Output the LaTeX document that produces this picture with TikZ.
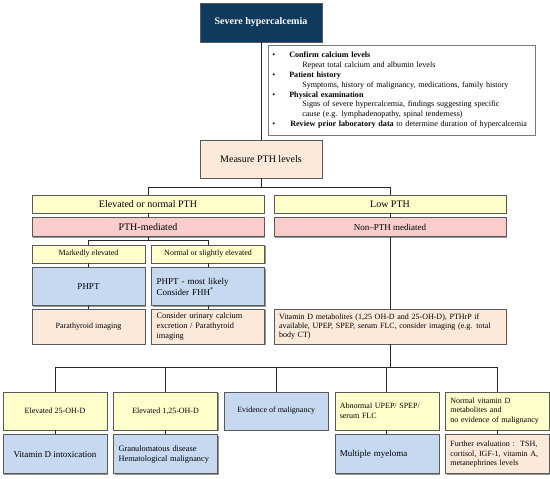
\documentclass[tikz,border=0pt]{standalone}
\usepackage{fontspec}
\setmainfont{Liberation Serif}
\usetikzlibrary{positioning, shadows}
\definecolor{hcnavy}{RGB}{16,58,92}
\definecolor{hcyellow}{RGB}{255,255,204}
\definecolor{hcpink}{RGB}{250,204,204}
\definecolor{hcblue}{RGB}{198,217,241}
\definecolor{hcpeach}{RGB}{253,233,217}
\definecolor{hcgray}{RGB}{89,89,89}

\begin{document}
\begin{tikzpicture}[
  x=1pt, y=-1pt,
  card/.style={rectangle, draw=hcgray, line width=0.6pt, align=center,
               inner xsep=5pt, inner ysep=2pt,
               drop shadow={shadow xshift=1.2pt, shadow yshift=-1.2pt,
                            fill=black!60, opacity=.7}},
  topbox/.style={card, fill=hcnavy, text=white, font=\bfseries,
                 minimum width=122pt, minimum height=39pt},
  infobox/.style={rectangle, draw=hcgray!80, fill=white, line width=0.6pt,
                  align=left, text width=259pt, inner xsep=4pt,
                  minimum height=90pt, font=\fontsize{8.1}{9.8}\selectfont},
  ybox/.style={card, fill=hcyellow},
  pbox/.style={card, fill=hcpink},
  bbox/.style={card, fill=hcblue},
  obox/.style={card, fill=hcpeach},
  wide/.style={minimum width=232pt, minimum height=18pt},
  half/.style={minimum width=113pt},
  cell/.style={minimum width=104pt},
  ln/.style={line width=1pt, draw=black!85},
]
\useasboundingbox (0,0) rectangle (550,479);

% Start and work-up
\node[topbox] (severe) at (261,22.5) {Severe hypercalcemia};
\node[infobox, anchor=north west] (info) at (268,45) {%
  \makebox[17pt][l]{\textbullet}\textbf{Confirm calcium levels}\\
  \hspace*{30pt}Repeat total calcium and albumin levels\\
  \makebox[17pt][l]{\textbullet}\textbf{Patient history}\\
  \hspace*{30pt}Symptoms, history of malignancy, medications, family history\\
  \makebox[17pt][l]{\textbullet}\textbf{Physical examination}\\
  \hspace*{30pt}Signs of severe hypercalcemia, findings suggesting specific\\
  \hspace*{30pt}cause (e.g. lymphadenopathy, spinal tenderness)\\
  \makebox[17pt][l]{\textbullet}\hspace*{1pt}\textbf{Review prior laboratory data} to determine duration of hypercalcemia};
\node[obox, minimum width=122pt, minimum height=38pt] (measure) at (261,159) {Measure PTH levels};

% PTH branches
\node[ybox, wide] (elev) at (148,204) {Elevated or normal PTH};
\node[pbox, wide, minimum height=19pt, below=4pt of elev] (pthmed) {PTH-mediated};
\node[ybox, wide] (low) at (390,204) {Low PTH};
\node[pbox, wide, minimum height=19pt, below=4pt of low, font=\small] (nonpth) {Non--PTH mediated};

% PTH-mediated column
\node[ybox, half, minimum height=18pt, font=\footnotesize] (marked) at (88.5,254) {Markedly elevated};
\node[ybox, half, minimum height=18pt, right=6pt of marked, font=\footnotesize] (slight) {Normal or slightly elevated};
\node[bbox, half, minimum height=38pt, below=4pt of marked, font=\small] (phpt) {PHPT};
\node[bbox, half, minimum height=38pt, below=4pt of slight, align=left, text width=103pt, font=\small] (phptfhh) {PHPT - most likely\\Consider FHH\textsuperscript{*}};
\node[obox, half, minimum height=35pt, below=3pt of phpt, font=\footnotesize] (paraimg) {Parathyroid imaging};
\node[obox, half, minimum height=35pt, below=3pt of phptfhh, align=left, text width=103pt, font=\fontsize{8.3}{10.2}\selectfont] (urinary) {Consider urinary calcium\\excretion / Parathyroid\\imaging};

% Non-PTH work-up
\node[obox, wide, minimum height=35pt, align=left, text width=222pt, font=\fontsize{8}{9.2}\selectfont] (vitd) at (390,326.5) {Vitamin D metabolites (1,25 OH-D and 25-OH-D), PTHrP if\\available, UPEP, SPEP, serum FLC, consider imaging (e.g. total\\body CT)};

% Bottom findings
\node[ybox, cell, minimum height=38pt, font=\footnotesize] (e25) at (55,411) {Elevated 25-OH-D};
\node[ybox, cell, minimum height=38pt, right=6pt of e25, font=\footnotesize] (e125) {Elevated 1,25-OH-D};
\node[bbox, cell, minimum height=38pt, right=6pt of e125, font=\footnotesize] (evid) {Evidence of malignancy};
\node[ybox, cell, minimum height=38pt, right=6pt of evid, align=left, text width=94pt, font=\fontsize{8}{9.5}\selectfont] (abn) {Abnormal UPEP/ SPEP/\\serum FLC};
\node[ybox, cell, minimum height=38pt, right=6pt of abn, align=left, text width=94pt, font=\fontsize{8}{9.5}\selectfont] (normvd) {Normal vitamin D\\metabolites and\\no evidence of malignancy};

% Bottom diagnoses
\node[bbox, cell, minimum height=39pt, below=4pt of e25, font=\small] (vdint) {Vitamin D intoxication};
\node[bbox, cell, minimum height=39pt, below=4pt of e125, align=left, text width=94pt, font=\fontsize{8.3}{10}\selectfont] (gran) {Granulomatous disease\\Hematological malignancy};
\node[bbox, cell, minimum height=39pt, below=4pt of abn, align=left, text width=94pt, font=\small] (myeloma) {Multiple myeloma};
\node[obox, cell, minimum height=39pt, below=4pt of normvd, align=left, text width=94pt, font=\fontsize{8}{9.5}\selectfont] (further) {Further evaluation :\ \ TSH,\\cortisol, IGF-1, vitamin A,\\metanephrines levels};

% Connectors
\coordinate (split1) at (261,187);
\coordinate (split2) at (148,240);
\coordinate (split3) at (390,367);

\draw[ln] (severe) -- (measure);
\draw[ln] (measure) -- (split1);
\draw[ln] (split1) -| (elev);
\draw[ln] (split1) -| (low);
\draw[ln] (elev) -- (pthmed);
\draw[ln] (low) -- (nonpth);

\draw[ln] (pthmed) -- (split2);
\draw[ln] (split2) -| (marked);
\draw[ln] (split2) -| (slight);
\draw[ln] (marked) -- (phpt);
\draw[ln] (phpt) -- (paraimg);
\draw[ln] (slight) -- (phptfhh);
\draw[ln] (phptfhh) -- (urinary);

\draw[ln] (nonpth) -- (vitd);
\draw[ln] (vitd) -- (split3);
\draw[ln] (split3) -| (e25);
\draw[ln] (split3) -| (e125);
\draw[ln] (split3) -| (evid);
\draw[ln] (split3) -| (abn);
\draw[ln] (split3) -| (normvd);

\draw[ln] (e25) -- (vdint);
\draw[ln] (e125) -- (gran);
\draw[ln] (abn) -- (myeloma);
\draw[ln] (normvd) -- (further);

\end{tikzpicture}
\end{document}
